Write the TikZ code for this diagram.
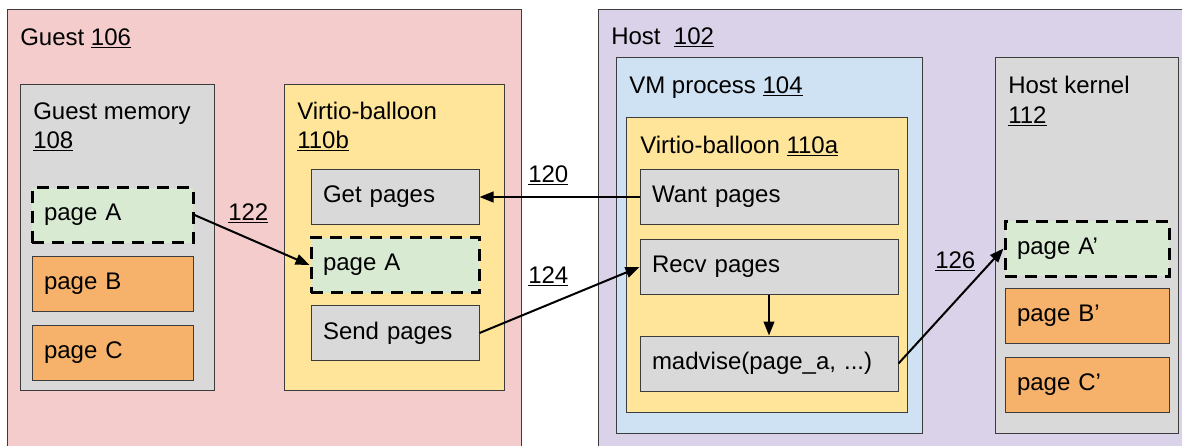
\documentclass[tikz,border=0pt]{standalone}
\usepackage{fontspec}
\setmainfont{Liberation Sans}
\usetikzlibrary{arrows.meta}
\definecolor{guestpink}{HTML}{F4CCCC}
\definecolor{hostlilac}{HTML}{D9D2E9}
\definecolor{vmblue}{HTML}{CFE2F3}
\definecolor{balloonyel}{HTML}{FFE599}
\definecolor{memgrey}{HTML}{D9D9D9}
\definecolor{pagegreen}{HTML}{D9EAD3}
\definecolor{pageorange}{HTML}{F6B26B}
\definecolor{edgegrey}{HTML}{3C3C3C}
\newcommand{\refno}[1]{\underline{#1}}

\begin{document}
\begin{tikzpicture}[
    x=0.75pt, y=-0.75pt,
    every node/.style={font=\fontsize{18pt}{22.5pt}\selectfont, text=black},
    frame/.style={rectangle, draw=edgegrey, line width=0.75pt, anchor=north west, inner sep=0pt},
    pagebox/.style={rectangle, draw=edgegrey, line width=0.75pt, minimum height=41.25pt, inner xsep=9pt, inner ysep=0pt, align=left, text width=#1},
    greypg/.style={fill=memgrey},
    orangepg/.style={fill=pageorange},
    freshpg/.style={fill=pagegreen, draw=black, line width=2.25pt, dash pattern=on 9pt off 6pt},
    title/.style={anchor=base west, inner sep=0pt},
    flow/.style={-{Triangle[length=10.5pt,width=8pt]}, line width=1.5pt}
]
\useasboundingbox (0,0) rectangle (1182,446);
\clip (0,0) rectangle (1182,446);

% ---- GUEST (left) ----
\node[frame, fill=guestpink, minimum width=385.5pt, minimum height=345.75pt] (guest) at (7,9) {};
\node[title] (guestT) at (20,45) {Guest \refno{106}};
\node[frame, fill=memgrey, minimum width=145.5pt, minimum height=229.5pt] (gmem) at (20,84) {};
\node[title] (gmemT) at (33,119) {Guest memory};
\node[title] (gmemN) at (33,148) {\refno{108}};
\node[pagebox=102.75pt, freshpg] (gA) at (112.5,215) {page A};
\node[pagebox=102.75pt, orangepg] (gB) at (112.5,284) {page B};
\node[pagebox=102.75pt, orangepg] (gC) at (112.5,353) {page C};

\node[frame, fill=balloonyel, minimum width=165pt, minimum height=229.5pt] (vbg) at (284,84) {};
\node[title] (vbgT) at (297,119) {Virtio-balloon};
\node[title] (vbgN) at (297,148) {\refno{110b}};
\node[pagebox=108pt, greypg] (get) at (395,197) {Get pages};
\node[pagebox=108pt, freshpg] (bA) at (395,265) {page A};
\node[pagebox=108pt, greypg] (send) at (395,333) {Send pages};

% ---- HOST (right) ----
\node[frame, fill=hostlilac, minimum width=451.5pt, minimum height=345.75pt] (host) at (598,9) {};
\node[title] (hostT) at (611,44) {Host~~\refno{102}};
\node[frame, fill=vmblue, minimum width=229.5pt, minimum height=282pt] (vm) at (616,57) {};
\node[title] (vmT) at (629,93) {VM process \refno{104}};
\node[frame, fill=balloonyel, minimum width=210.75pt, minimum height=221.25pt] (vbh) at (626,117) {};
\node[title] (vbhT) at (640,153) {Virtio-balloon \refno{110a}};
\node[pagebox=175.5pt, greypg] (want) at (769,197) {Want pages};
\node[pagebox=175.5pt, greypg] (recv) at (769,267) {Recv pages};
\node[pagebox=175.5pt, greypg] (mad) at (769,363.5) {madvise(page\_a, ...)};

\node[frame, fill=memgrey, minimum width=137.25pt, minimum height=282pt] (kern) at (995,57) {};
\node[title] (kernT) at (1008,93) {Host kernel};
\node[title] (kernN) at (1008,123) {\refno{112}};
\node[pagebox=105pt, freshpg] (kA) at (1087,248.5) {page A'};
\node[pagebox=105pt, orangepg] (kB) at (1087,315.5) {page B'};
\node[pagebox=105pt, orangepg] (kC) at (1087,385) {page C'};

% ---- connectors ----
\draw[flow] (gA.east) -- (bA.west);
\draw[flow] (want.west) -- (get.east);
\draw[flow] (send.east) -- (recv.west);
\draw[flow] (recv.south) -- (mad.north);
\draw[flow] (mad.east) -- (kA.west);
\node[title] (l122) at (228,220) {\refno{122}};
\node[title] (l120) at (528,182) {\refno{120}};
\node[title] (l124) at (528,283) {\refno{124}};
\node[title] (l126) at (935,268) {\refno{126}};
\end{tikzpicture}
\end{document}
